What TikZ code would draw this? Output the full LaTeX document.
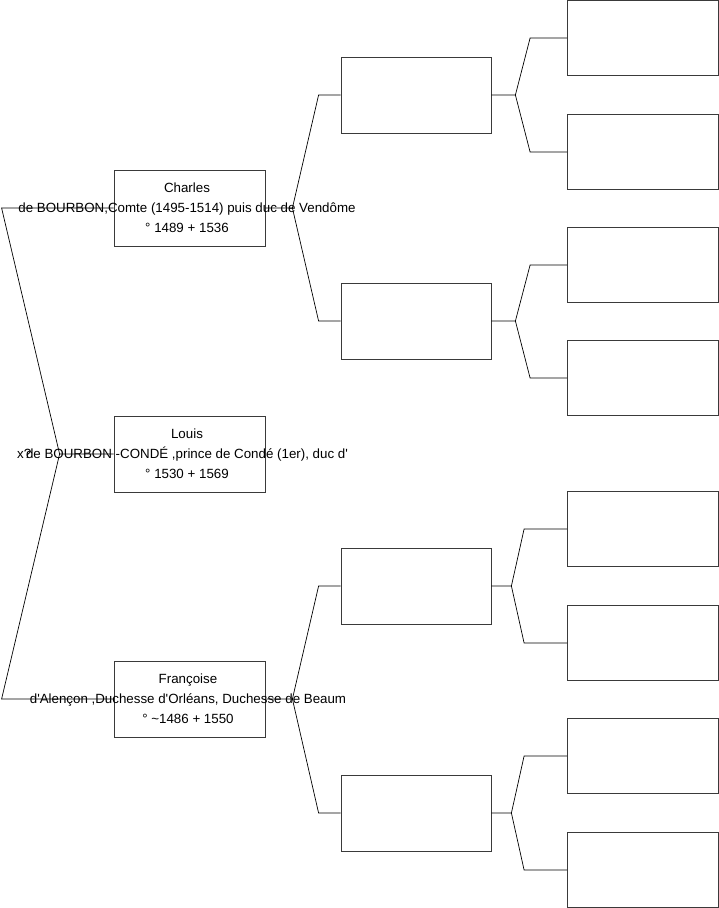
\documentclass[tikz,border=0pt]{standalone}
\usepackage{fontspec}
\setmainfont{Liberation Sans}[Ligatures=TeXOff]
\usepackage{tikz}
\usetikzlibrary{positioning}
\definecolor{boxgray}{HTML}{3A3A3A}

\tikzset{
  personbox/.style={draw=boxgray, line width=0.8pt, minimum width=151pt, minimum height=76pt, inner sep=0pt},
  persontext/.style={align=center, font=\fontsize{13.33}{20}\selectfont, inner sep=0pt},
  link/.style={draw=black, line width=0.7pt}
}

\begin{document}
\begin{tikzpicture}[x=1pt, y=-1pt]
  \useasboundingbox (0,0) rectangle (719,908);

  % generation 1
  \node[personbox] (charles) at (189.5,208) {};
  \node[personbox] (louis) at (189.5,454) {};
  \node[personbox] (francoise) at (189.5,699) {};

  % generation 2
  \node[personbox, minimum width=150pt] (m1) at (416,95) {};
  \node[personbox, minimum width=150pt] (m2) at (416,321) {};
  \node[personbox, minimum width=150pt] (m3) at (416,586) {};
  \node[personbox, minimum width=150pt] (m4) at (416,813) {};

  % generation 3
  \foreach \i/\y in {1/38, 2/152, 3/265, 4/378, 5/529, 6/643, 7/756, 8/870}
    \node[personbox, minimum height=75pt] (r\i) at (643,\y) {};

  % forks
  \coordinate (v0) at ([xshift=-54pt]louis.west);
  \draw[link] (louis.west) -- (v0) -- ([xshift=-112pt]charles.west) -- (charles.west);
  \draw[link] (v0) -- ([xshift=-112pt]francoise.west) -- (francoise.west);

  \draw[link] (charles.east) -- ++(27,0) coordinate (v1)
    -- ([xshift=-22pt]m1.west) -- (m1.west);
  \draw[link] (v1) -- ([xshift=-22pt]m2.west) -- (m2.west);
  \draw[link] (francoise.east) -- ++(27,0) coordinate (v2)
    -- ([xshift=-22pt]m3.west) -- (m3.west);
  \draw[link] (v2) -- ([xshift=-22pt]m4.west) -- (m4.west);

  \foreach \m/\a/\b/\s/\t in {m1/r1/r2/24/37, m2/r3/r4/24/37, m3/r5/r6/20/43, m4/r7/r8/20/43}{
    \draw[link] (\m.east) -- ++(\s,0) coordinate (fk)
      -- ([xshift=-\t pt]\a.west) -- (\a.west);
    \draw[link] (fk) -- ([xshift=-\t pt]\b.west) -- (\b.west);
  }

  % texts
  \node[persontext] (charlestxt) at (187,208) {Charles\\de BOURBON,Comte (1495-1514) puis duc de Vendôme\\° 1489 + 1536};
  \node[persontext] (louistxt) at (187,454) {Louis\\de BOURBON -CONDÉ ,prince de Condé (1er), duc d'\\° 1530 + 1569};
  \node[persontext] (francoisetxt) at (188,699) {Françoise\\d'Alençon ,Duchesse d'Orléans, Duchesse de Beaum\\° \textasciitilde1486 + 1550};
  \node[persontext, anchor=west] (marriage) at (17,454) {x?};
\end{tikzpicture}
\end{document}
